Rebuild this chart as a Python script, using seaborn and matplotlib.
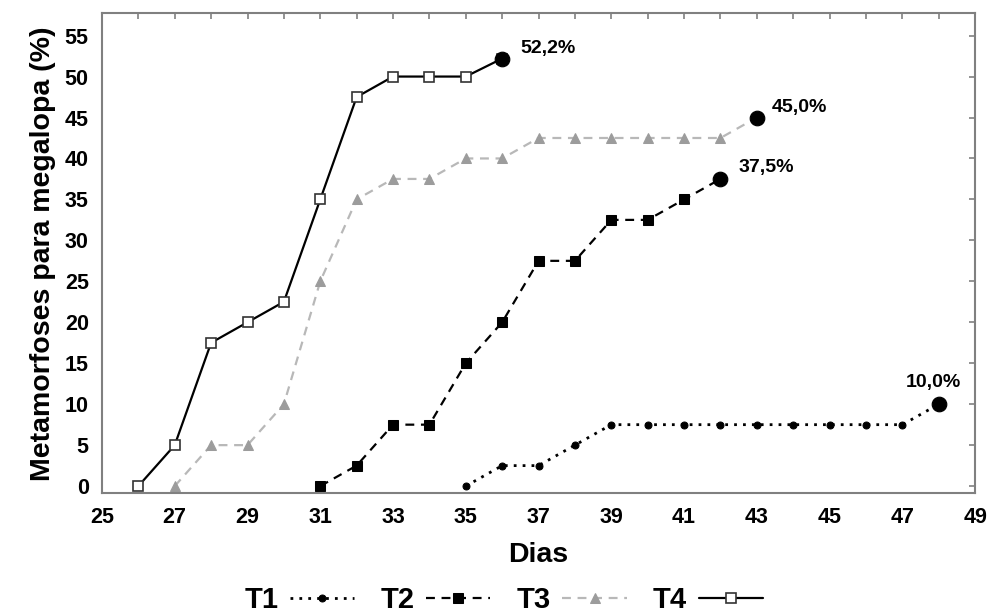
import numpy as np
import matplotlib
matplotlib.use("Agg")
import matplotlib.pyplot as plt
import seaborn as sns
from matplotlib.ticker import MultipleLocator

# STYLE
sns.set_theme(style="white")
plt.rcParams["font.family"] = ["Liberation Sans", "DejaVu Sans"]
plt.rcParams["font.weight"] = "bold"
plt.rcParams["text.color"] = "black"
plt.rcParams["axes.labelcolor"] = "black"

# DATA
days_t1 = [35, 36, 37, 38, 39, 40, 41, 42, 43, 44, 45, 46, 47, 48]
vals_t1 = [0, 2.5, 2.5, 5, 7.5, 7.5, 7.5, 7.5, 7.5, 7.5, 7.5, 7.5, 7.5, 10.0]

days_t2 = [31, 32, 33, 34, 35, 36, 37, 38, 39, 40, 41, 42]
vals_t2 = [0, 2.5, 7.5, 7.5, 15, 20, 27.5, 27.5, 32.5, 32.5, 35, 37.5]

days_t3 = [27, 28, 29, 30, 31, 32, 33, 34, 35, 36, 37, 38, 39, 40, 41, 42, 43]
vals_t3 = [0, 5, 5, 10, 25, 35, 37.5, 37.5, 40, 40, 42.5, 42.5, 42.5, 42.5,
           42.5, 42.5, 45.0]

days_t4 = [26, 27, 28, 29, 30, 31, 32, 33, 34, 35, 36]
vals_t4 = [0, 5, 17.5, 20, 22.5, 35, 47.5, 50, 50, 50, 52.2]

series_names = ["T1", "T2", "T3", "T4"]
end_labels = ["10,0%", "37,5%", "45,0%", "52,2%"]
x_ticks = list(range(25, 50, 2))

# PLOT
fig, ax = plt.subplots(figsize=(9.9, 6.13), dpi=100)
fig.subplots_adjust(left=0.103, right=0.985, top=0.978, bottom=0.195)

styles = [
    dict(color="black", linestyle=(0, (1, 2.2)), marker="o", markersize=5,
         markerfacecolor="black", markeredgecolor="black", linewidth=2),
    dict(color="black", linestyle=(0, (4, 3)), marker="s", markersize=6.5,
         markerfacecolor="black", markeredgecolor="black", linewidth=1.6),
    dict(color="#b8b8b8", linestyle=(0, (4, 3)), marker="^", markersize=7,
         markerfacecolor="#9c9c9c", markeredgecolor="#9c9c9c", linewidth=1.6),
    dict(color="black", linestyle="-", marker="s", markersize=7,
         markerfacecolor="white", markeredgecolor="#333333",
         markeredgewidth=1.2, linewidth=1.6),
]

all_days = [days_t1, days_t2, days_t3, days_t4]
all_vals = [vals_t1, vals_t2, vals_t3, vals_t4]

handles = []
for days, vals, name, st in zip(all_days, all_vals, series_names, styles):
    sns.lineplot(x=days, y=vals, ax=ax, label=name, **st)
    handles.append(ax.get_lines()[-1])

# final points
end_x = [d[-1] for d in all_days]
end_y = [v[-1] for v in all_vals]
sns.scatterplot(x=end_x, y=end_y, ax=ax, color="black", s=110, zorder=5,
                edgecolor="black", legend=False)

offsets = [(-0.15, 2.7, "center"), (0.5, 1.4, "left"),
           (0.4, 1.2, "left"), (0.5, 1.2, "left")]
for x, y, lab, (dx, dy, ha) in zip(end_x, end_y, end_labels, offsets):
    ax.text(x + dx, y + dy, lab, fontsize=14, fontweight="bold",
            color="black", ha=ha, va="center")

# AXES
ax.set_xlim(25, 49)
ax.set_ylim(-0.9, 57.7)
ax.set_xticks(x_ticks)
ax.xaxis.set_minor_locator(MultipleLocator(1))
ax.yaxis.set_major_locator(MultipleLocator(5))
ax.yaxis.set_minor_locator(MultipleLocator(1))

ax.tick_params(axis="both", which="both", direction="out", colors="#808080",
               labelcolor="black", width=1.2)
ax.tick_params(axis="both", which="major", length=6, labelsize=15.5)
ax.tick_params(axis="y", which="minor", length=3)
ax.tick_params(axis="x", which="minor", length=6)

# inward ticks on top and right
top = ax.secondary_xaxis("top")
top.set_xticks(range(25, 50))
top.tick_params(direction="in", length=4, colors="#808080", width=1.2,
                labeltop=False)
right = ax.secondary_yaxis("right")
right.set_yticks(range(0, 56, 5))
right.tick_params(direction="in", length=4, colors="#808080", width=1.2,
                  labelright=False)
for sec in (top, right):
    for s in sec.spines.values():
        s.set_visible(False)

for s in ax.spines.values():
    s.set_color("#808080")
    s.set_linewidth(1.5)

for lab in ax.get_xticklabels() + ax.get_yticklabels():
    lab.set_fontweight("bold")

ax.set_xlabel("Dias", fontsize=20.5, fontweight="bold", labelpad=10)
ax.set_ylabel("Metamorfoses para megalopa (%)", fontsize=20.5,
              fontweight="bold", labelpad=6)

ax.legend(handles=handles, labels=series_names, loc="center",
          bbox_to_anchor=(0.46, -0.222), ncol=4, frameon=False,
          markerfirst=False, handlelength=2.2,
          columnspacing=0.9, handletextpad=0.4,
          prop={"weight": "bold", "size": 21})

fig.savefig("out.png", dpi=100, facecolor="white")
